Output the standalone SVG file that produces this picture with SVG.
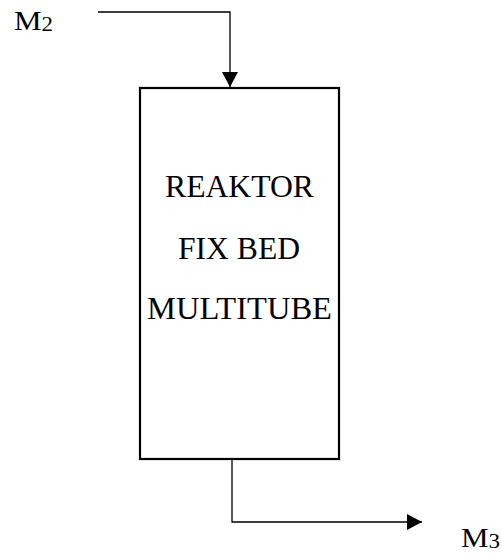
<svg xmlns="http://www.w3.org/2000/svg" width="502" height="554" viewBox="0 0 502 554">
<style>
.t{font-family:"Liberation Serif","Times New Roman",serif;fill:#000}
.big{font-size:32px}
.lbl{font-size:27px}
.sub{font-size:20px}
.ln{fill:none;stroke:#000;stroke-width:1.3}
</style>
<defs>
<marker id="ah" markerWidth="15" markerHeight="16" refX="15" refY="8" orient="auto" markerUnits="userSpaceOnUse">
<path d="M0,0 L15,8 L0,16 Z" fill="#000"/>
</marker>
</defs>
<rect width="502" height="554" fill="#fff"/>
<g id="connectors">
<path class="ln" d="M98,12 H230 V87" marker-end="url(#ah)"/>
<path class="ln" d="M232,459 V522 H422" marker-end="url(#ah)"/>
</g>
<g id="reactor">
<rect x="140" y="88" width="199" height="371" fill="#fff" stroke="#000" stroke-width="2.2"/>
<text class="t big" x="165" y="197" textLength="149" lengthAdjust="spacingAndGlyphs">REAKTOR</text>
<text class="t big" x="178" y="259" textLength="122" lengthAdjust="spacingAndGlyphs">FIX BED</text>
<text class="t big" x="147" y="319" textLength="185" lengthAdjust="spacingAndGlyphs">MULTITUBE</text>
</g>
<g id="m2">
<text class="t lbl" x="14" y="30" textLength="39" lengthAdjust="spacingAndGlyphs">M<tspan class="sub" dy="1">2</tspan></text>
</g>
<g id="m3">
<text class="t lbl" x="461" y="547" textLength="39" lengthAdjust="spacingAndGlyphs">M<tspan class="sub" dy="1">3</tspan></text>
</g>
</svg>
